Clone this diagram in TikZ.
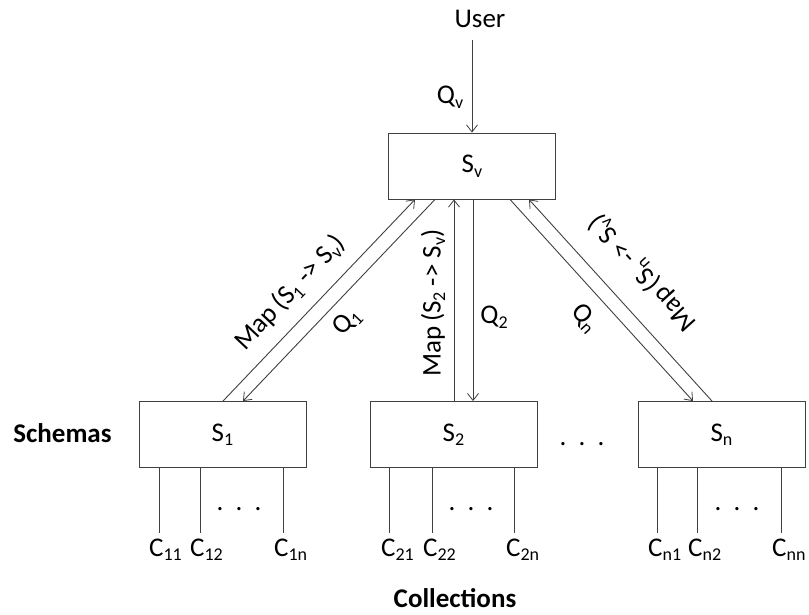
\documentclass[tikz,border=0pt]{standalone}
\usepackage{fontspec}
\setmainfont{Carlito}
\usetikzlibrary{arrows.meta}
\newcommand\sbs[1]{\raisebox{-0.35ex}{\fontsize{18}{18}\selectfont #1}}
\tikzset{
  x=1pt, y=-1pt,
  every node/.style={font=\fontsize{27}{30}\selectfont, text=black, inner sep=1pt},
  ln/.style={draw=black!75, line width=0.9pt},
  box/.style={ln, minimum width=167pt, minimum height=66pt, inner sep=0pt},
  arr/.style={ln, -{Straight Barb[length=7pt,width=11pt,line width=0.8pt]}},
  clab/.style={anchor=base west, inner sep=0pt},
  bold/.style={font=\fontsize{27}{30}\selectfont\bfseries}
}
\begin{document}
\begin{tikzpicture}
\useasboundingbox (0,0) rectangle (809,614);
% boxes
\node[box] (sv) at (472,166) {S\sbs{v}};
\node[box] (s1) at (222.5,434.5) {S\sbs{1}};
\node[box] (s2) at (453.5,434.5) {S\sbs{2}};
\node[box] (sn) at (721.5,434.5) {S\sbs{n}};
% user
\node (user) at (480,19) {User};
\coordinate (ustart) at (472,40);
\draw[arr] (ustart) -- (sv.north);
\node (qv) at (450,97) {Q\sbs{v}};
% S1 arrows
\draw[arr] ([xshift=0.5pt]s1.north) -- ([xshift=-57pt]sv.south);
\draw[arr] ([xshift=-37pt]sv.south) -- ([xshift=20.5pt]s1.north);
\node[rotate=46.6] (m1) at (290,293) {Map\,(S\sbs{1} -> S\sbs{v})};
\node[rotate=46.6] (q1) at (347,322) {Q\sbs{1}};
% S2 arrows
\draw[arr] ([xshift=0.5pt]s2.north) -- ([xshift=-18pt]sv.south);
\draw[arr] ([xshift=1pt]sv.south) -- ([xshift=19.5pt]s2.north);
\node[rotate=90] (m2) at (433,303) {Map\,(S\sbs{2} -> S\sbs{v})};
\node (q2) at (494,317) {Q\sbs{2}};
% Sn arrows
\draw[arr] ([xshift=38pt]sv.south) -- ([xshift=-28.5pt]sn.north);
\draw[arr] ([xshift=-9.5pt]sn.north) -- ([xshift=57pt]sv.south);
\node[rotate=-48] (qn) at (585,318) {Q\sbs{n}};
\node[rotate=132] (mn) at (643,273) {Map\,(S\sbs{n} -> S\sbs{v})};
% dots
\node (d0) at (582,444) {.\ \ .\ \ .};
% collections S1
\node[clab] (c11) at (149,556) {C\sbs{11}};
\node[clab] (c12) at (190,556) {C\sbs{12}};
\node[clab] (c1n) at (274,556) {C\sbs{1n}};
\draw[ln] ([xshift=-63.5pt]s1.south) -- ++(0,65);
\draw[ln] ([xshift=-22.5pt]s1.south) -- ++(0,65);
\draw[ln] ([xshift=60.5pt]s1.south) -- ++(0,65);
\node (d1) at (239,509) {.\ \ .\ \ .};
% collections S2
\node[clab] (c21) at (381,556) {C\sbs{21}};
\node[clab] (c22) at (423,556) {C\sbs{22}};
\node[clab] (c2n) at (506,556) {C\sbs{2n}};
\draw[ln] ([xshift=-64.5pt]s2.south) -- ++(0,65);
\draw[ln] ([xshift=-21.5pt]s2.south) -- ++(0,65);
\draw[ln] ([xshift=60.5pt]s2.south) -- ++(0,65);
\node (d2) at (471,509) {.\ \ .\ \ .};
% collections Sn
\node[clab] (cn1) at (648,556) {C\sbs{n1}};
\node[clab] (cn2) at (688,556) {C\sbs{n2}};
\node[clab] (cnn) at (772,556) {C\sbs{nn}};
\draw[ln] ([xshift=-64.5pt]sn.south) -- ++(0,65);
\draw[ln] ([xshift=-24.5pt]sn.south) -- ++(0,65);
\draw[ln] ([xshift=59.5pt]sn.south) -- ++(0,65);
\node (d3) at (737,509) {.\ \ .\ \ .};
% titles
\node[bold] (schemas) at (62.5,433) {Schemas};
\node[bold] (coll) at (455,598) {Collections};
\end{tikzpicture}
\end{document}
